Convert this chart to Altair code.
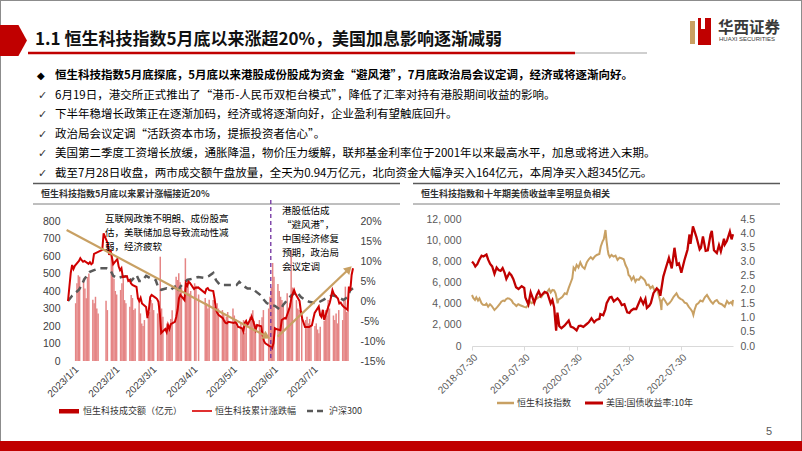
import altair as alt
import pandas as pd

FONT = "Noto Sans CJK SC"
LAT = "Liberation Sans"

# ---------------- slide text ----------------
title_text = "1.1 恒生科技指数5月底以来涨超20%，美国加息影响逐渐减弱"
bullet_texts = [
    "恒生科技指数5月底探底，5月底以来港股成份股成为资金“避风港”，7月底政治局会议定调，经济或将逐渐向好。",
    "6月19日，港交所正式推出了“港币-人民币双柜台模式”，降低了汇率对持有港股期间收益的影响。",
    "下半年稳增长政策正在逐渐加码，经济或将逐渐向好，企业盈利有望触底回升。",
    "政治局会议定调“活跃资本市场，提振投资者信心”。",
    "美国第二季度工资增长放缓，通胀降温，物价压力缓解，联邦基金利率位于2001年以来最高水平，加息或将进入末期。",
    "截至7月28日收盘，两市成交额午盘放量，全天为0.94万亿元，北向资金大幅净买入164亿元，本周净买入超345亿元。",
]
bullet_marks = ["◆", "✓", "✓", "✓", "✓", "✓"]
left_title = "恒生科技指数5月底以来累计涨幅接近20%"
right_title = "恒生科技指数和十年期美债收益率呈明显负相关"
note_left = ["互联网政策不明朗、成份股高", "估，美联储加息导致流动性减", "弱，经济疲软"]
note_right = ["港股低估成", "“避风港”，", "中国经济修复", "预期，政治局", "会议定调"]
left_legend = ["恒生科技成交额（亿元）", "恒生科技累计涨跌幅", "沪深300"]
right_legend = ["恒生科技指数", "美国:国债收益率:10年"]
logo_cn = "华西证券"
logo_en = "HUAXI SECURITIES"
page_no = "5"

# ---------------- left chart data ----------------
jan_days = [3, 4, 5, 6, 9, 10, 11, 12, 13, 16, 17, 18, 19, 20, 26, 27, 30, 31]
feb_days = [1, 2, 3, 6, 7, 8, 9, 10, 13, 14, 15, 16, 17, 20, 21, 22, 23, 24, 27, 28]
mar_days = [1, 2, 3, 6, 7, 8, 9, 10, 13, 14, 15, 16, 17, 20, 21, 22, 23, 24, 27, 28, 29, 30, 31]
apr_days = [3, 4, 6, 11, 12, 13, 14, 17, 18, 19, 20, 21, 24, 25, 26, 27, 28]
may_days = [2, 3, 4, 5, 8, 9, 10, 11, 12, 15, 16, 17, 18, 19, 22, 23, 24, 25, 29, 30, 31]
jun_days = [1, 2, 5, 6, 7, 8, 9, 12, 13, 14, 15, 16, 19, 20, 21, 23, 26, 27, 28, 29, 30]
jul_days = [3, 4, 5, 6, 7, 10, 11, 12, 13, 14, 17, 18, 19, 20, 21, 24, 25, 26, 27, 28]

jan_turnover = [330, 445, 490, 482, 470, 415, 358, 480, 500, 350, 330, 367, 300, 272, 345, 291, 615, 560]
feb_turnover = [470, 400, 380, 406, 444, 482, 348, 330, 310, 377, 360, 291, 300, 350, 272, 215, 200, 234, 250, 280]
mar_turnover = [349, 330, 291, 272, 310, 596, 300, 253, 215, 180, 200, 240, 290, 482, 463, 501, 450, 420, 587, 425, 470, 386, 400]
apr_turnover = [444, 430, 380, 360, 330, 300, 350, 348, 310, 290, 330, 300, 291, 272, 234, 253, 280]
may_turnover = [300, 260, 240, 196, 220, 180, 234, 160, 200, 253, 272, 290, 230, 210, 234, 180, 250, 291, 300, 367, 420]
jun_turnover = [560, 482, 440, 400, 367, 348, 330, 387, 300, 330, 634, 420, 348, 300, 291, 250, 234, 253, 215, 240, 205]
jul_turnover = [200, 215, 180, 158, 196, 230, 291, 260, 348, 300, 260, 234, 272, 215, 291, 234, 348, 425, 280, 350]

hstech_dates = [
    "2023-01-01", "2023-01-03", "2023-01-04", "2023-01-05", "2023-01-06", "2023-01-09", "2023-01-10",
    "2023-01-11", "2023-01-12", "2023-01-13", "2023-01-16", "2023-01-17", "2023-01-18", "2023-01-19",
    "2023-01-20", "2023-01-26", "2023-01-27", "2023-01-30", "2023-01-31", "2023-02-01", "2023-02-02",
    "2023-02-03", "2023-02-06", "2023-02-07", "2023-02-08", "2023-02-09", "2023-02-10", "2023-02-13",
    "2023-02-14", "2023-02-15", "2023-02-16", "2023-02-17", "2023-02-20", "2023-02-21", "2023-02-22",
    "2023-02-23", "2023-02-24", "2023-02-27", "2023-02-28", "2023-03-01", "2023-03-02", "2023-03-03",
    "2023-03-06", "2023-03-07", "2023-03-08", "2023-03-09", "2023-03-10", "2023-03-13", "2023-03-14",
    "2023-03-15", "2023-03-16", "2023-03-17", "2023-03-20", "2023-03-21", "2023-03-22", "2023-03-23",
    "2023-03-24", "2023-03-27", "2023-03-28", "2023-03-29", "2023-03-30", "2023-03-31", "2023-04-03",
    "2023-04-04", "2023-04-06", "2023-04-11", "2023-04-12", "2023-04-13", "2023-04-14", "2023-04-17",
    "2023-04-18", "2023-04-19", "2023-04-20", "2023-04-21", "2023-04-24", "2023-04-25", "2023-04-26",
    "2023-04-27", "2023-04-28", "2023-05-02", "2023-05-03", "2023-05-04", "2023-05-05", "2023-05-08",
    "2023-05-09", "2023-05-10", "2023-05-11", "2023-05-12", "2023-05-15", "2023-05-16", "2023-05-17",
    "2023-05-18", "2023-05-19", "2023-05-22", "2023-05-23", "2023-05-24", "2023-05-25", "2023-05-29",
    "2023-05-30", "2023-05-31", "2023-06-01", "2023-06-02", "2023-06-05", "2023-06-06", "2023-06-07",
    "2023-06-08", "2023-06-09", "2023-06-12", "2023-06-13", "2023-06-14", "2023-06-15", "2023-06-16",
    "2023-06-19", "2023-06-20", "2023-06-21", "2023-06-23", "2023-06-26", "2023-06-27", "2023-06-28",
    "2023-06-29", "2023-06-30", "2023-07-03", "2023-07-04", "2023-07-05", "2023-07-06", "2023-07-07",
    "2023-07-10", "2023-07-11", "2023-07-12", "2023-07-13", "2023-07-14", "2023-07-17", "2023-07-18",
    "2023-07-19", "2023-07-20", "2023-07-21", "2023-07-24", "2023-07-25", "2023-07-26", "2023-07-27",
    "2023-07-28",
]
hstech_pct = [
    0.0, 7.0, 9.0, 8.0, 8.8, 10.0, 10.7,
    10.2, 9.8, 10.0, 9.3, 9.7, 9.2, 9.5,
    11.8, 12.8, 16.9, 14.4, 11.5, 12.8, 11.0,
    9.2, 10.5, 8.6, 7.7, 8.2, 6.0, 6.2,
    5.0, 5.2, 4.4, 4.0, 3.5, 0.7, 0.0,
    0.8, -0.6, -1.5, -4.3, -2.2, 1.0, 1.5,
    0.8, 0.5, -0.2, -3.0, -8.0, -7.0, -7.8,
    -6.0, -7.0, -5.8, -5.2, -4.0, -2.2, 0.7,
    1.5, 0.2, 4.4, 3.8, 4.8, 4.5, 3.0,
    3.3, 3.4, 2.0, 3.0, 3.2, 2.7, 2.5,
    0.5, -2.2, -3.0, -3.5, -4.3, -5.0, -5.5,
    -5.6, -5.2, -5.5, -5.3, -5.6, -6.4, -6.8,
    -7.6, -5.5, -5.0, -6.0, -3.9, -4.8, -6.0,
    -7.2, -6.0, -6.3, -8.5, -10.0, -10.6, -11.5,
    -11.8, -10.5, -6.8, -7.0, -7.3, -4.75, -4.5,
    -4.3, -4.4, -1.4, 0.7, 1.8, 2.75, 1.8,
    0.0, -2.7, -4.5, -6.5, -6.5, -6.3, -6.1,
    -4.5, -3.0, -1.4, -3.5, -4.0, -2.2, -4.7,
    -1.4, -0.5, 1.0, 2.7, 1.8, 0.6, -0.6,
    -0.4, -1.0, -1.4, -2.2, 3.6, 2.5, 6.5,
    8.2,
]

csi_dates = [
    "2023-01-01", "2023-01-04", "2023-01-09", "2023-01-11", "2023-01-13", "2023-01-17", "2023-01-20",
    "2023-01-24", "2023-01-29", "2023-02-01", "2023-02-03", "2023-02-06", "2023-02-09", "2023-02-14",
    "2023-02-16", "2023-02-20", "2023-02-22", "2023-02-24", "2023-02-27", "2023-03-02", "2023-03-06",
    "2023-03-08", "2023-03-10", "2023-03-14", "2023-03-17", "2023-03-20", "2023-03-22", "2023-03-24",
    "2023-03-29", "2023-04-03", "2023-04-06", "2023-04-10", "2023-04-14", "2023-04-17", "2023-04-19",
    "2023-04-22", "2023-04-26", "2023-04-30", "2023-05-04", "2023-05-06", "2023-05-09", "2023-05-12",
    "2023-05-16", "2023-05-18", "2023-05-21", "2023-05-23", "2023-05-26", "2023-05-29", "2023-06-01",
    "2023-06-05", "2023-06-07", "2023-06-10", "2023-06-13", "2023-06-17", "2023-06-20", "2023-06-23",
    "2023-06-26", "2023-06-30", "2023-07-02", "2023-07-06", "2023-07-10", "2023-07-13", "2023-07-17",
    "2023-07-21", "2023-07-24", "2023-07-26", "2023-07-28",
]
csi_pct = [
    0.0, 1.3, 2.8, 4.0, 5.5, 7.3, 7.7,
    8.2, 8.2, 7.7, 6.3, 5.7, 6.0, 6.3,
    5.0, 6.5, 5.0, 5.0, 6.3, 5.7, 5.25,
    3.2, 2.8, 3.2, 2.8, 3.6, 2.2, 3.6,
    5.25, 5.7, 6.0, 5.8, 6.3, 7.0, 5.2,
    4.0, 4.0, 4.0, 4.0, 4.8, 3.8, 3.1,
    3.1, 2.4, 1.6, 0.7, -0.5, -1.0, -1.2,
    -2.2, -1.0, 0.25, 1.4, 2.3, 1.0, 0.25,
    -0.2, -0.5, -0.5, 0.2, 1.0, 1.4, 1.0,
    0.25, 1.0, 2.7, 3.2,
]

trend_down_dates = ["2022-12-31", "2023-05-26"]
trend_down_pct = [17.75, -8.9]
trend_up_dates = ["2023-06-03", "2023-07-25"]
trend_up_pct = [-8.9, 8.0]
marker_date = ["2023-05-29"]

# ---------------- right chart data ----------------
tech_dates = [
    "2018-07-30", "2018-08-08", "2018-08-20", "2018-08-29", "2018-09-10", "2018-09-20", "2018-10-05",
    "2018-10-15", "2018-10-30", "2018-11-08", "2018-11-20", "2018-12-03", "2018-12-14", "2019-01-03",
    "2019-01-14", "2019-01-25", "2019-02-08", "2019-02-20", "2019-03-05", "2019-03-15", "2019-03-25",
    "2019-04-05", "2019-04-17", "2019-05-03", "2019-05-14", "2019-05-24", "2019-06-05", "2019-06-18",
    "2019-07-02", "2019-07-15", "2019-07-30", "2019-08-13", "2019-08-26", "2019-09-10", "2019-09-20",
    "2019-10-03", "2019-10-18", "2019-10-30", "2019-11-12", "2019-11-26", "2019-12-10", "2019-12-24",
    "2020-01-08", "2020-01-20", "2020-01-31", "2020-02-12", "2020-02-24", "2020-03-05", "2020-03-12",
    "2020-03-19", "2020-03-26", "2020-04-08", "2020-04-22", "2020-05-08", "2020-05-22", "2020-06-05",
    "2020-06-19", "2020-06-30", "2020-07-09", "2020-07-20", "2020-07-30", "2020-08-12", "2020-08-25",
    "2020-09-08", "2020-09-24", "2020-10-09", "2020-10-23", "2020-11-06", "2020-11-20", "2020-12-04",
    "2020-12-18", "2021-01-05", "2021-01-15", "2021-01-27", "2021-02-05", "2021-02-17", "2021-02-24",
    "2021-03-04", "2021-03-10", "2021-03-19", "2021-03-31", "2021-04-14", "2021-04-28", "2021-05-12",
    "2021-05-26", "2021-06-09", "2021-06-24", "2021-07-07", "2021-07-20", "2021-07-28", "2021-08-06",
    "2021-08-18", "2021-09-01", "2021-09-14", "2021-09-24", "2021-10-08", "2021-10-22", "2021-11-05",
    "2021-11-19", "2021-12-02", "2021-12-15", "2021-12-28", "2022-01-12", "2022-01-27", "2022-02-10",
    "2022-02-24", "2022-03-08", "2022-03-15", "2022-03-18", "2022-03-29", "2022-04-08", "2022-04-26",
    "2022-05-10", "2022-05-24", "2022-06-08", "2022-06-28", "2022-07-12", "2022-07-26", "2022-08-10",
    "2022-08-24", "2022-09-07", "2022-09-21", "2022-10-07", "2022-10-17", "2022-10-24", "2022-11-01",
    "2022-11-14", "2022-11-29", "2022-12-12", "2022-12-28", "2023-01-12", "2023-01-27", "2023-02-10",
    "2023-02-24", "2023-03-10", "2023-03-24", "2023-04-06", "2023-04-21", "2023-05-10", "2023-05-31",
    "2023-06-16", "2023-06-30", "2023-07-14", "2023-07-24", "2023-07-28",
]
tech_values = [
    4820, 4550, 4350, 4600, 4300, 4500, 4030,
    3900, 3880, 4000, 3720, 3950, 3800, 3400,
    3550, 3720, 3950, 4190, 4300, 4250, 4420,
    4510, 4480, 4300, 4030, 3950, 3780, 3950,
    3850, 3780, 3700, 3650, 3870, 4190, 4050,
    4150, 4400, 4510, 4650, 4600, 4910, 5000,
    5140, 5360, 5050, 5300, 5250, 4980, 4550,
    4030, 4400, 4500, 4650, 4980, 4900, 5490,
    6000, 6400, 7400, 7200, 7650, 7400, 7900,
    7500, 7300, 7900, 8190, 8400, 8200, 8450,
    8600, 8700, 9400, 9860, 10100, 10960, 9960,
    9100, 8650, 8400, 8600, 8450, 8550, 8130,
    8350, 8290, 8200, 7650, 7300, 6710, 6600,
    6240, 6550, 6080, 6300, 6250, 6550, 6400,
    6200, 5760, 5800, 5450, 5650, 5200, 5450,
    4800, 4150, 3400, 4300, 4500, 4300, 3900,
    4050, 4300, 4650, 4980, 4600, 4450, 4350,
    4100, 4030, 3720, 3450, 3240, 2930, 3400,
    3900, 4050, 4300, 4200, 4600, 4820, 4500,
    4200, 4000, 4250, 4350, 4050, 3950, 3700,
    4250, 4000, 4150, 3950, 4350,
]

yield_dates = [
    "2018-07-30", "2018-08-10", "2018-08-22", "2018-09-05", "2018-09-18", "2018-10-05", "2018-10-18",
    "2018-11-08", "2018-11-20", "2018-12-04", "2018-12-18", "2019-01-03", "2019-01-18", "2019-02-01",
    "2019-02-15", "2019-03-01", "2019-03-15", "2019-03-27", "2019-04-17", "2019-05-01", "2019-05-15",
    "2019-06-03", "2019-06-20", "2019-07-12", "2019-07-30", "2019-08-07", "2019-08-28", "2019-09-13",
    "2019-09-25", "2019-10-08", "2019-10-25", "2019-11-08", "2019-11-22", "2019-12-06", "2019-12-20",
    "2020-01-08", "2020-01-31", "2020-02-12", "2020-02-24", "2020-03-09", "2020-03-18", "2020-03-31",
    "2020-04-15", "2020-05-06", "2020-06-05", "2020-06-19", "2020-07-08", "2020-07-30", "2020-08-14",
    "2020-08-28", "2020-09-15", "2020-10-09", "2020-10-23", "2020-11-11", "2020-11-30", "2020-12-15",
    "2021-01-05", "2021-01-12", "2021-02-01", "2021-02-16", "2021-02-25", "2021-03-18", "2021-03-31",
    "2021-04-16", "2021-05-12", "2021-05-28", "2021-06-11", "2021-06-29", "2021-07-19", "2021-08-03",
    "2021-08-16", "2021-09-03", "2021-09-20", "2021-10-21", "2021-11-08", "2021-11-23", "2021-12-03",
    "2021-12-20", "2021-12-31", "2022-01-18", "2022-02-10", "2022-02-25", "2022-03-07", "2022-03-28",
    "2022-04-12", "2022-05-06", "2022-05-26", "2022-06-14", "2022-07-01", "2022-07-15", "2022-08-01",
    "2022-08-22", "2022-09-13", "2022-09-27", "2022-10-04", "2022-10-21", "2022-11-01", "2022-11-14",
    "2022-12-07", "2022-12-16", "2022-12-30", "2023-01-18", "2023-02-02", "2023-02-21", "2023-03-02",
    "2023-03-17", "2023-04-06", "2023-04-21", "2023-05-04", "2023-05-26", "2023-06-01", "2023-06-15",
    "2023-07-06", "2023-07-18", "2023-07-28",
]
yield_values = [
    2.99, 2.93, 2.82, 2.90, 3.05, 3.20, 3.17,
    3.24, 3.06, 2.91, 2.82, 2.56, 2.78, 2.69,
    2.66, 2.76, 2.59, 2.38, 2.59, 2.51, 2.37,
    2.08, 2.02, 2.12, 2.06, 1.72, 1.47, 1.90,
    1.73, 1.53, 1.80, 1.94, 1.77, 1.84, 1.92,
    1.87, 1.51, 1.63, 1.37, 0.54, 1.18, 0.70,
    0.63, 0.72, 0.90, 0.69, 0.65, 0.55, 0.71,
    0.72, 0.68, 0.78, 0.84, 0.98, 0.84, 0.92,
    0.96, 1.13, 1.09, 1.30, 1.52, 1.72, 1.74,
    1.58, 1.69, 1.59, 1.45, 1.48, 1.19, 1.17,
    1.26, 1.32, 1.31, 1.68, 1.49, 1.67, 1.35,
    1.43, 1.52, 1.87, 2.04, 1.97, 1.78, 2.46,
    2.72, 3.12, 2.75, 3.48, 2.88, 2.93, 2.60,
    3.03, 3.41, 3.95, 3.62, 4.24, 4.07, 3.87,
    3.42, 3.48, 3.88, 3.37, 3.39, 3.95, 4.08,
    3.39, 3.29, 3.57, 3.35, 3.80, 3.60, 3.72,
    4.05, 3.78, 3.96,
]

# ---------------- tables ----------------
month_days = [jan_days, feb_days, mar_days, apr_days, may_days, jun_days, jul_days]
month_vals = [jan_turnover, feb_turnover, mar_turnover, apr_turnover, may_turnover, jun_turnover, jul_turnover]
bar_rows = []
for m, (days, vals) in enumerate(zip(month_days, month_vals), start=1):
    for d, v in zip(days, vals):
        bar_rows.append({"date": f"2023-{m:02d}-{d:02d}", "value": v})
bars_df = pd.DataFrame(bar_rows)
hstech_df = pd.DataFrame({"date": hstech_dates, "value": hstech_pct})
csi_df = pd.DataFrame({"date": csi_dates, "value": csi_pct})
down_df = pd.DataFrame({"date": trend_down_dates, "value": trend_down_pct})
up_df = pd.DataFrame({"date": trend_up_dates, "value": trend_up_pct})
marker_df = pd.DataFrame({"date": marker_date})
tech_df = pd.DataFrame({"date": tech_dates, "value": tech_values})
yield_df = pd.DataFrame({"date": yield_dates, "value": yield_values})
bullet_df = pd.DataFrame({"row": list(range(len(bullet_texts))), "text": bullet_texts, "mark": bullet_marks})
note_left_df = pd.DataFrame({"row": list(range(len(note_left))), "text": note_left})
note_right_df = pd.DataFrame({"row": list(range(len(note_right))), "text": note_right})

# ---------------- scales ----------------
LX = alt.Scale(domain=[alt.DateTime(year=2023, month=1, date=1), alt.DateTime(year=2023, month=7, date=28)],
               range=[68, 353], nice=False)
LY_AMT = alt.Scale(domain=[0, 800], range=[361, 221], nice=False, zero=False)
LY_PCT = alt.Scale(domain=[-15, 20], range=[361, 221], nice=False, zero=False)
RX = alt.Scale(domain=[alt.DateTime(year=2018, month=7, date=30), alt.DateTime(year=2023, month=7, date=28)],
               range=[472, 733], nice=False)
RY_IDX = alt.Scale(domain=[0, 12000], range=[346, 219], nice=False, zero=False)
RY_YLD = alt.Scale(domain=[0, 4.5], range=[346, 219], nice=False, zero=False)
ROW_Y = alt.Scale(domain=[0, 5], range=[76, 174], nice=False, zero=False)
NOTE_L_Y = alt.Scale(domain=[0, 2], range=[219, 247], nice=False, zero=False)
NOTE_R_Y = alt.Scale(domain=[0, 4], range=[211, 267], nice=False, zero=False)

one = pd.DataFrame({"k": [0]})


def txt(s, x, y, size, color="#000000", weight="normal", align="left", font=FONT, baseline="middle"):
    return alt.Chart(pd.DataFrame({"t": [s]})).mark_text(
        align=align, baseline=baseline, font=font, fontSize=size, fontWeight=weight, color=color
    ).encode(x=alt.value(x), y=alt.value(y), text="t:N")


def hrule(x1, x2, y, color, width, dash=None):
    kw = dict(color=color, strokeWidth=width)
    if dash:
        kw["strokeDash"] = dash
    return alt.Chart(one).mark_rule(**kw).encode(x=alt.value(x1), x2=alt.value(x2), y=alt.value(y))


def box(x1, x2, y1, y2, color):
    return alt.Chart(one).mark_rect(color=color).encode(
        x=alt.value(x1), x2=alt.value(x2), y=alt.value(y1), y2=alt.value(y2))


layers = []

# ---------------- header ----------------
layers.append(alt.Chart(one).mark_point(
    shape="M -1 -1 L 0.35 -1 L 0.9 0 L 0.35 1 L -1 1 Z", filled=True, opacity=1, color="#C00000",
    size=961, strokeWidth=0).encode(x=alt.value(13), y=alt.value(40.5)))
layers.append(txt(title_text, 35, 40, 17, color="#111111", weight="bold"))
layers.append(hrule(28, 575, 53, "#C00000", 2.5))
layers.append(hrule(575, 647, 53, "#BFBFBF", 1.5))
# logo
layers.append(box(690, 695, 21, 44, "#C9A063"))
layers.append(box(698, 711, 18, 45, "#C00000"))
layers.append(box(701, 705, 18, 29, "#FFFFFF"))
layers.append(txt(logo_cn, 718, 28, 15.5, color="#3a3a3a", weight="bold"))
layers.append(txt(logo_en, 719, 39, 6, color="#3a3a3a", font=LAT))

# bullets
bul = alt.Chart(bullet_df)
layers.append(bul.transform_filter("datum.row == 0").mark_text(
    align="left", baseline="middle", font="DejaVu Sans", fontSize=10, color="#000000").encode(
    x=alt.value(37), y=alt.Y("row:Q", scale=ROW_Y, axis=None), text="mark:N"))
layers.append(bul.transform_filter("datum.row > 0").mark_text(
    align="left", baseline="middle", font="DejaVu Sans", fontSize=11, color="#333333").encode(
    x=alt.value(38), y=alt.Y("row:Q", scale=ROW_Y, axis=None), text="mark:N"))
layers.append(bul.transform_filter("datum.row == 0").mark_text(
    align="left", baseline="middle", font=FONT, fontSize=11.5, fontWeight="bold", color="#000000").encode(
    x=alt.value(55), y=alt.Y("row:Q", scale=ROW_Y, axis=None), text="text:N"))
layers.append(bul.transform_filter("datum.row > 0").mark_text(
    align="left", baseline="middle", font=FONT, fontSize=11.5, color="#000000").encode(
    x=alt.value(55), y=alt.Y("row:Q", scale=ROW_Y, axis=None), text="text:N"))

# chart headers
layers.append(hrule(33, 400, 183.5, "#595959", 1.5))
layers.append(hrule(413, 780, 183.5, "#595959", 1.5))
layers.append(txt(left_title, 41, 194, 9, color="#333333", weight="bold"))
layers.append(txt(right_title, 421, 194, 9, color="#333333", weight="bold"))
layers.append(hrule(33, 400, 204, "#7f7f7f", 1))
layers.append(hrule(413, 780, 204, "#7f7f7f", 1))

# ---------------- left chart ----------------
month_ticks = [alt.DateTime(year=2023, month=m, date=1) for m in range(1, 8)]
layers.append(alt.Chart(bars_df).mark_bar(size=1.5, color="#E58585").encode(
    x=alt.X("date:T", scale=LX, axis=alt.Axis(
        orient="bottom", offset=-90, values=month_ticks, format="%Y/%-m/%-d", labelAngle=315,
        domain=False, ticks=False, grid=False, labelPadding=3, labelFont=LAT, labelFontSize=10,
        labelColor="#404040", title=None)),
    y=alt.Y("value:Q", scale=LY_AMT, axis=alt.Axis(
        orient="left", offset=-64, values=list(range(0, 801, 100)), domain=False, ticks=False,
        grid=False, labelPadding=4, labelFont=LAT, labelFontSize=10.5, labelColor="#404040", title=None)),
))
layers.append(alt.Chart(csi_df).mark_line(color="#595959", strokeWidth=2.5, strokeDash=[7, 5]).encode(
    x=alt.X("date:T", scale=LX, axis=None),
    y=alt.Y("value:Q", scale=LY_PCT, axis=None)))
layers.append(alt.Chart(hstech_df).mark_line(color="#D00000", strokeWidth=2).encode(
    x=alt.X("date:T", scale=LX, axis=None),
    y=alt.Y("value:Q", scale=LY_PCT, axis=alt.Axis(
        orient="right", offset=-446, values=list(range(-15, 21, 5)), labelExpr="datum.value + '%'",
        domain=False, ticks=False, grid=False, labelPadding=4, labelFont=LAT, labelFontSize=10.5,
        labelColor="#404040", title=None))))
for df_, ang in ((down_df, 28), (up_df, 316)):
    layers.append(alt.Chart(df_).mark_line(color="#C8A063", strokeWidth=2.2).encode(
        x=alt.X("date:T", scale=LX, axis=None), y=alt.Y("value:Q", scale=LY_PCT, axis=None)))
    layers.append(alt.Chart(df_).transform_window(rn="row_number()").transform_filter("datum.rn == 2").mark_point(
        shape="triangle-right", filled=True, opacity=1, color="#C8A063", size=80, angle=ang).encode(
        x=alt.X("date:T", scale=LX, axis=None), y=alt.Y("value:Q", scale=LY_PCT, axis=None)))
layers.append(alt.Chart(marker_df).mark_rule(color="#7030A0", strokeWidth=1.3, strokeDash=[4, 3]).encode(
    x=alt.X("date:T", scale=LX, axis=None), y=alt.value(200), y2=alt.value(361)))
layers.append(alt.Chart(note_left_df).mark_text(
    align="left", baseline="middle", font=FONT, fontSize=9.5, color="#000000").encode(
    x=alt.value(105), y=alt.Y("row:Q", scale=NOTE_L_Y, axis=None), text="text:N"))
layers.append(alt.Chart(note_right_df).mark_text(
    align="left", baseline="middle", font=FONT, fontSize=9.5, color="#000000").encode(
    x=alt.value(282), y=alt.Y("row:Q", scale=NOTE_R_Y, axis=None), text="text:N"))

# left legend
layers.append(box(59, 79, 409, 413.5, "#C00000"))
layers.append(txt(left_legend[0], 83, 411, 9, color="#333333"))
layers.append(hrule(192, 212, 411, "#E03030", 2))
layers.append(txt(left_legend[1], 215, 411, 9, color="#333333"))
layers.append(hrule(307, 325, 411, "#595959", 2.5, dash=[6, 4]))
layers.append(txt(left_legend[2], 329, 411, 9, color="#333333"))

# ---------------- right chart ----------------
year_ticks = [alt.DateTime(year=y, month=7, date=30) for y in range(2018, 2023)]
layers.append(alt.Chart(tech_df).mark_line(color="#C8A063", strokeWidth=2).encode(
    x=alt.X("date:T", scale=RX, axis=alt.Axis(
        orient="bottom", offset=-105, values=year_ticks, format="%Y-%m-%d", labelAngle=315,
        domain=True, domainColor="#D9D9D9", ticks=True, tickColor="#D9D9D9", tickSize=4, grid=False,
        labelPadding=2, labelFont=LAT, labelFontSize=10, labelColor="#595959", title=None)),
    y=alt.Y("value:Q", scale=RY_IDX, axis=alt.Axis(
        orient="left", offset=-465, values=list(range(0, 12001, 2000)),
        labelExpr="replace(format(datum.value, ','), ',', ', ')", domain=False, ticks=False, grid=False,
        labelPadding=4, labelFont=LAT, labelFontSize=10.5, labelColor="#595959", title=None))))
layers.append(alt.Chart(yield_df).mark_line(color="#C00000", strokeWidth=2.3).encode(
    x=alt.X("date:T", scale=RX, axis=None),
    y=alt.Y("value:Q", scale=RY_YLD, axis=alt.Axis(
        orient="right", offset=-66, values=[i * 0.5 for i in range(10)], format=".1f",
        domain=False, ticks=False, grid=False, labelPadding=4, labelFont=LAT, labelFontSize=10.5,
        labelColor="#595959", title=None))))

# right legend
layers.append(hrule(497, 514, 403, "#C8A063", 2.5))
layers.append(txt(right_legend[0], 517, 403, 9, color="#333333"))
layers.append(hrule(585, 603, 403, "#C00000", 3))
layers.append(txt(right_legend[1], 606, 403, 9, color="#333333"))

# footer
layers.append(txt(page_no, 766, 432, 11, color="#595959", font=LAT))
layers.append(box(0, 802, 441, 451, "#C00000"))

chart = alt.layer(*layers).resolve_scale(x="independent", y="independent").properties(
    width=802, height=451, autosize=alt.AutoSizeParams(type="none"), padding=0, background="white"
).configure_view(stroke="#8c8c8c", strokeWidth=2).configure_axis(grid=False)

chart.save("out.html", embed_options={"renderer": "svg", "actions": False})
